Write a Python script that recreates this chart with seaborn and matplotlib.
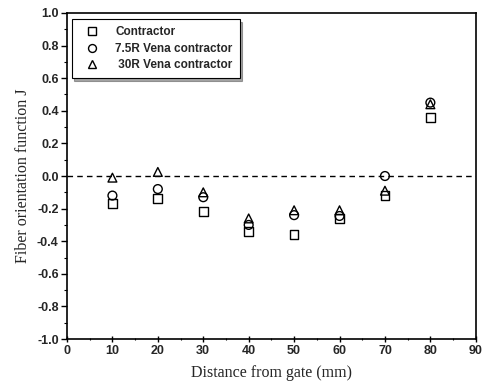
import numpy as np
import pandas as pd
import matplotlib.pyplot as plt
import seaborn as sns

# data
distance = [10, 20, 30, 40, 50, 60, 70, 80]
contractor = [-0.17, -0.14, -0.22, -0.34, -0.36, -0.26, -0.12, 0.36]
vena_75r = [-0.12, -0.08, -0.13, -0.30, -0.24, -0.245, 0.0, 0.45]
vena_30r = [-0.01, 0.025, -0.10, -0.26, -0.21, -0.21, -0.09, 0.44]
series_names = ['Contractor', '7.5R Vena contractor', ' 30R Vena contractor']
y_ticks = [-1.0, -0.8, -0.6, -0.4, -0.2, 0.0, 0.2, 0.4, 0.6, 0.8, 1.0]
y_labels = ['-1.0', '-0.8', '-0.6', '-0.4', '-0.2', '0.0', '0.2', '0.4', '0.6', '0.8', '1.0']

df = pd.DataFrame({
    'x': distance * 3,
    'J': contractor + vena_75r + vena_30r,
    'series': [series_names[0]] * 8 + [series_names[1]] * 8 + [series_names[2]] * 8,
})

sns.set_style('ticks')
plt.rcParams['font.family'] = ['Liberation Sans', 'DejaVu Sans']

fig = plt.figure(figsize=(4.89, 3.92), dpi=100)
ax = fig.add_axes([0.137, 0.135, 0.836, 0.832])

ax.axhline(0, color='black', linestyle=(0, (4, 3)), linewidth=1.0, zorder=1)

sns.scatterplot(data=df, x='x', y='J', style='series', hue='series',
                markers=['s', 'o', '^'], palette=['none'] * 3,
                edgecolor='black', linewidth=1.0, s=40, ax=ax, zorder=3)
for coll in ax.collections:
    coll.set_facecolor('none')
    coll.set_edgecolor('black')

ax.set_xlim(0, 90)
ax.set_ylim(-1.0, 1.0)
ax.set_xticks(np.arange(0, 91, 10))
ax.set_xticks(np.arange(5, 90, 10), minor=True)
ax.set_yticks(y_ticks)
ax.set_yticks(np.arange(-0.9, 1.0, 0.2), minor=True)
ax.set_yticklabels(y_labels)

for lab in ax.get_xticklabels() + ax.get_yticklabels():
    lab.set_fontweight('bold')
    lab.set_fontsize(9)
ax.tick_params(axis='both', which='major', length=4, width=1, color='black', pad=2)
ax.tick_params(axis='both', which='minor', length=2, width=0.8, color='black')
ax.tick_params(axis='x', which='both', direction='inout')

for sp in ax.spines.values():
    sp.set_visible(True)
    sp.set_linewidth(1.2)
    sp.set_color('black')

ax.set_xlabel('Distance from gate (mm)', family='Liberation Serif', fontsize=11.5, labelpad=6)
ax.set_ylabel('Fiber orientation function J', family='Liberation Serif', fontsize=11.5, labelpad=4)

handles, labels = ax.get_legend_handles_labels()
for h in handles:
    h.set_markerfacecolor('none')
    h.set_markeredgecolor('black')
leg = ax.legend(handles, labels, loc='upper left', bbox_to_anchor=(-0.003, 1.0),
                frameon=True, fancybox=False, shadow=True, edgecolor='black',
                prop={'weight': 'bold', 'size': 8.5}, handletextpad=0.9,
                borderpad=0.6, labelspacing=0.4, markerscale=0.9,
                handlelength=2.2)
leg.get_frame().set_linewidth(0.8)

fig.savefig('out.png', dpi=100)
